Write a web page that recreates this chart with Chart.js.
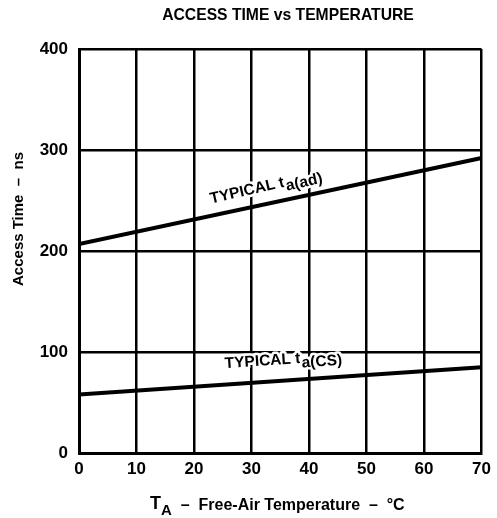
<!DOCTYPE html>
<html>
<head>
<meta charset="utf-8">
<script src="https://cdn.jsdelivr.net/npm/chart.js@4"></script>
<style>
  html, body { margin: 0; padding: 0; background: #fff; }
  #wrap { width: 497px; height: 518px; }
</style>
</head>
<body>
<div id="wrap"><canvas id="chart" width="497" height="518"></canvas></div>
<script>
// DATA
const temps = [0, 70];
const typicalAd = [207, 292];
const typicalCs = [58, 85];
const xTickLabels = [0, 10, 20, 30, 40, 50, 60, 70];
const yTickLabels = [0, 100, 200, 300, 400];

const FONT = "'Liberation Sans', Arial, sans-serif";

function toPoints(xs, ys) {
  return xs.map((x, i) => ({ x: x, y: ys[i] }));
}

// draws "main" + subscript "sub", rotated, with a white halo so grid lines break
function drawSubText(ctx, x, y, angle, main, sub, size) {
  ctx.save();
  ctx.translate(x, y);
  ctx.rotate(angle * Math.PI / 180);
  ctx.textBaseline = "alphabetic";
  ctx.textAlign = "left";
  ctx.lineJoin = "round";
  ctx.font = `bold ${size}px ${FONT}`;
  const w = ctx.measureText(main).width;
  ctx.strokeStyle = "#fff";
  ctx.lineWidth = 5;
  ctx.strokeText(main, 0, 0);
  ctx.fillStyle = "#000";
  ctx.fillText(main, 0, 0);
  ctx.font = `bold ${size}px ${FONT}`;
  ctx.strokeText(sub, w + 1, size * 0.3);
  ctx.fillText(sub, w + 1, size * 0.3);
  ctx.restore();
}

const textPlugin = {
  id: "texts",
  afterDatasetsDraw(chart) {
    const ctx = chart.ctx;
    const xs = chart.scales.x;
    const ys = chart.scales.y;

    // curve labels
    drawSubText(ctx, xs.getPixelForValue(23), ys.getPixelForValue(247), -13, "TYPICAL t", "a(ad)", 15.5);
    drawSubText(ctx, xs.getPixelForValue(25.4), ys.getPixelForValue(84), -4, "TYPICAL t", "a(CS)", 15.5);

    ctx.save();
    ctx.fillStyle = "#000";
    // title
    ctx.font = `bold 15.7px ${FONT}`;
    ctx.textAlign = "center";
    ctx.textBaseline = "alphabetic";
    ctx.fillText("ACCESS TIME vs TEMPERATURE", 288, 20);

    // y axis title
    ctx.save();
    ctx.translate(23, 219);
    ctx.rotate(-Math.PI / 2);
    ctx.font = `bold 15px ${FONT}`;
    ctx.fillText("Access Time  \u2013  ns", 0, 0);
    ctx.restore();

    // x axis title with subscript A
    ctx.textAlign = "left";
    let x = 150;
    ctx.font = `bold 18px ${FONT}`;
    ctx.fillText("T", x, 509);
    x += ctx.measureText("T").width;
    ctx.font = `bold 15px ${FONT}`;
    ctx.fillText("A", x, 515);
    x += ctx.measureText("A").width;
    ctx.font = `bold 16px ${FONT}`;
    ctx.fillText("  \u2013  Free-Air Temperature  \u2013  \u00B0C", x, 510);
    ctx.restore();
  },
};

const ctx = document.getElementById("chart").getContext("2d");
new Chart(ctx, {
  type: "line",
  data: {
    datasets: [
      {
        label: "TYPICAL ta(ad)",
        data: toPoints(temps, typicalAd),
        borderColor: "#000",
        borderWidth: 4,
        pointRadius: 0,
        tension: 0,
      },
      {
        label: "TYPICAL ta(CS)",
        data: toPoints(temps, typicalCs),
        borderColor: "#000",
        borderWidth: 4,
        pointRadius: 0,
        tension: 0,
      },
    ],
  },
  options: {
    responsive: false,
    animation: false,
    layout: { padding: { top: 49, right: 13, left: 0, bottom: 0 } },
    plugins: {
      legend: { display: false },
      title: { display: false },
      tooltip: { enabled: false },
    },
    scales: {
      x: {
        type: "linear",
        min: xTickLabels[0],
        max: xTickLabels[xTickLabels.length - 1],
        afterBuildTicks: (scale) => {
          scale.ticks = xTickLabels.map((v) => ({ value: v }));
        },
        afterFit: (scale) => { scale.height = 65; },
        grid: { color: "#000", lineWidth: 2.5, drawTicks: false },
        border: { color: "#000", width: 3 },
        ticks: {
          padding: 6,
          color: "#000",
          font: { family: FONT, size: 17, weight: "bold" },
          maxRotation: 0,
        },
      },
      y: {
        min: yTickLabels[0],
        max: yTickLabels[yTickLabels.length - 1],
        afterBuildTicks: (scale) => {
          scale.ticks = yTickLabels.map((v) => ({ value: v }));
        },
        afterFit: (scale) => { scale.width = 79; },
        grid: { color: "#000", lineWidth: 2.5, drawTicks: false },
        border: { color: "#000", width: 3 },
        ticks: {
          padding: 11,
          color: "#000",
          font: { family: FONT, size: 17, weight: "bold" },
        },
      },
    },
  },
  plugins: [textPlugin],
});
</script>
</body>
</html>
